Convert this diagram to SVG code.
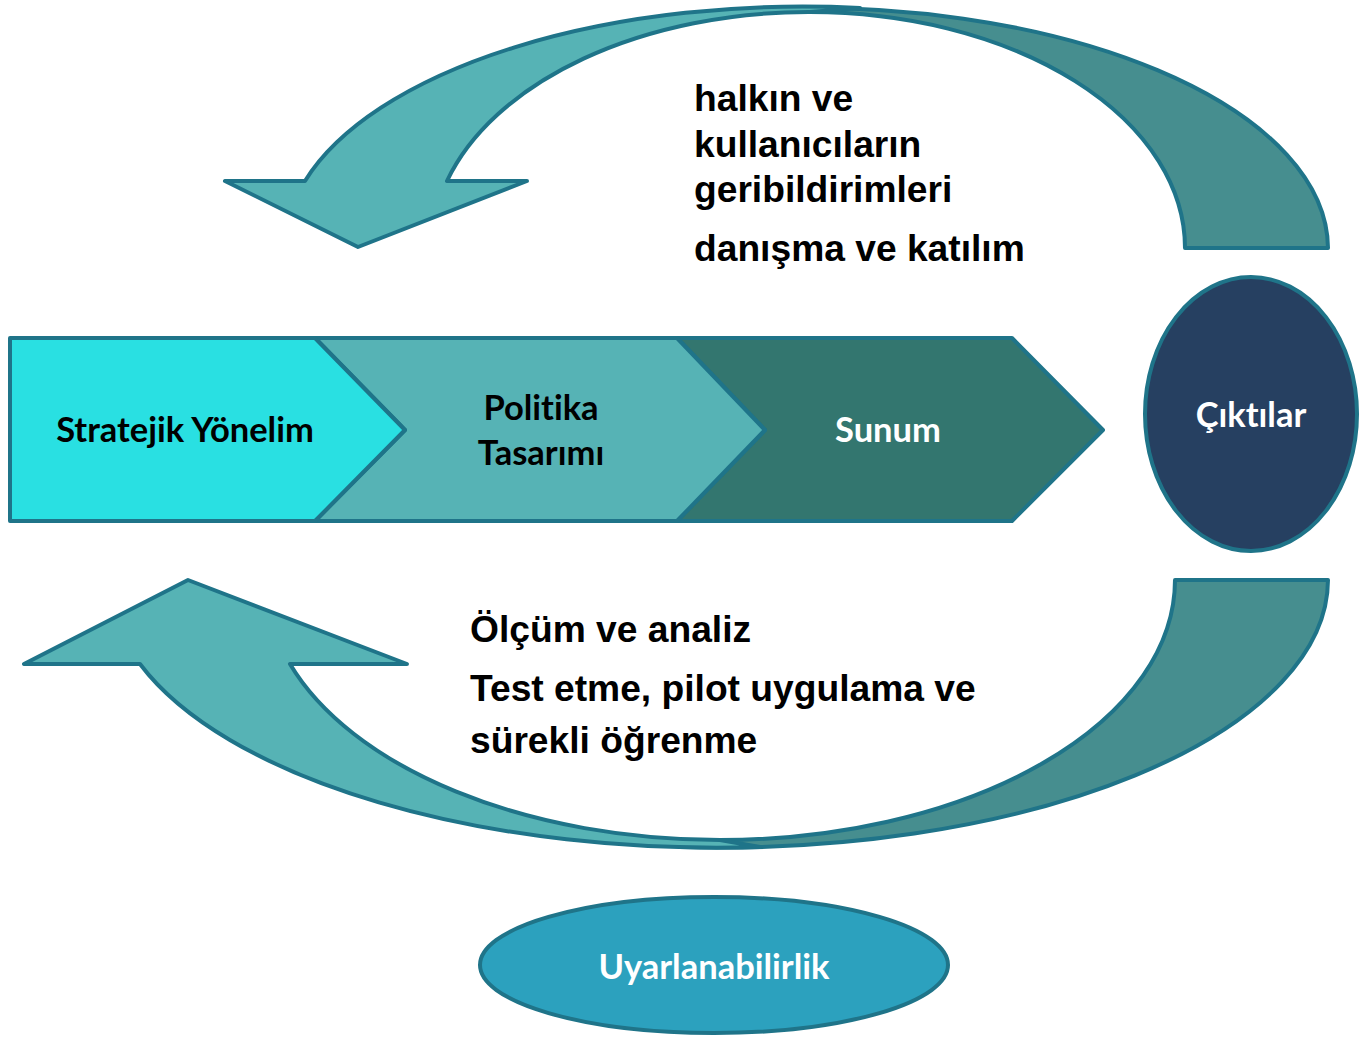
<svg xmlns="http://www.w3.org/2000/svg" width="1362" height="1037" viewBox="0 0 1362 1037">
<style>
.edge{stroke:#1F7489;stroke-width:4;stroke-linejoin:round}
.light{fill:#56B3B5}
.dark{fill:#468E8F}
.lbl{font-family:Lato,"Open Sans",sans-serif;font-weight:700;text-anchor:middle;font-size:34.5px;font-variant-ligatures:none}
.note{font-family:"Liberation Sans",Arial,sans-serif;font-weight:700;font-size:37.2px;fill:#000}
</style>
<rect width="1362" height="1037" fill="#fff"/>
<g id="connectors">
  <g id="top-arrow">
    <path class="edge dark" d="M 1185,248 A 375 236 0 0 0 810,12 L 760,9 A 518 241 0 0 1 1328,248 Z"/>
    <path class="edge light" d="M 225,181 L 305,181 A 518 241 0 0 1 860,8 L 810,12 A 377 236 0 0 0 447,181 L 527,181 L 358,247 Z"/>
  </g>
  <g id="bottom-arrow">
    <path class="edge dark" d="M 1175,580 A 455 260 0 0 1 720,840 L 680,847 A 608 268 0 0 0 1328,580 Z"/>
    <path class="edge light" d="M 24,664 L 140,664 A 608 268 0 0 0 760,847 L 720,840 A 455 260 0 0 1 290,664 L 407,664 L 188,580 Z"/>
  </g>
</g>
<g id="sunum">
  <path class="edge" fill="#33766F" d="M 677,338 L 1012,338 L 1103,430 L 1012,521 L 677,521 L 765,430 Z"/>
  <text class="lbl" x="888" y="442" fill="#fff">Sunum</text>
</g>
<g id="politika">
  <path class="edge light" d="M 315,338 L 677,338 L 765,430 L 677,521 L 315,521 L 405,430 Z"/>
  <text class="lbl" x="541" y="420" fill="#000">Politika</text>
  <text class="lbl" x="541" y="465" fill="#000">Tasarımı</text>
</g>
<g id="stratejik">
  <path class="edge" fill="#29E0E2" d="M 10,338 L 315,338 L 405,430 L 315,521 L 10,521 Z"/>
  <text class="lbl" x="185" y="442" fill="#000">Stratejik Yönelim</text>
</g>
<g id="ciktilar">
  <ellipse class="edge" cx="1251" cy="414" rx="106" ry="137" fill="#264061"/>
  <text class="lbl" x="1251" y="427" fill="#fff">Çıktılar</text>
</g>
<g id="uyarlanabilirlik">
  <ellipse class="edge" cx="714" cy="965" rx="234" ry="68" fill="#2CA1BE"/>
  <text class="lbl" x="714" y="979" fill="#fff">Uyarlanabilirlik</text>
</g>
<g id="top-notes">
  <text class="note" x="694" y="111">halkın ve</text>
  <text class="note" x="694" y="157">kullanıcıların</text>
  <text class="note" x="694" y="202">geribildirimleri</text>
  <text class="note" x="694" y="261">danışma ve katılım</text>
</g>
<g id="bottom-notes">
  <text class="note" x="470" y="642">Ölçüm ve analiz</text>
  <text class="note" x="470" y="701">Test etme, pilot uygulama ve</text>
  <text class="note" x="470" y="753">sürekli öğrenme</text>
</g>
</svg>
